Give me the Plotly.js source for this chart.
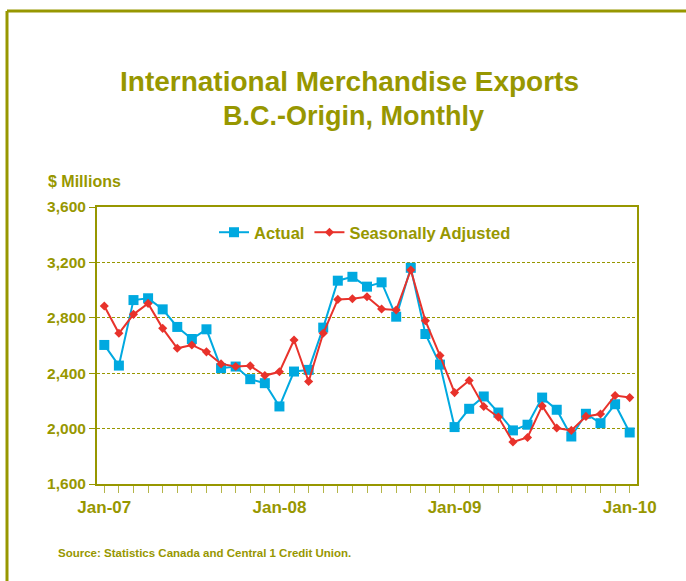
<!DOCTYPE html>
<html>
<head>
<meta charset="utf-8">
<script src="https://cdn.plot.ly/plotly-3.0.1.min.js"></script>
<style>
html,body{margin:0;padding:0;background:#fff;}
#chart{width:686px;height:581px;}
</style>
</head>
<body>
<div id="chart"></div>
<script>
var months = ["Jan-07","Feb-07","Mar-07","Apr-07","May-07","Jun-07","Jul-07","Aug-07","Sep-07","Oct-07","Nov-07","Dec-07",
  "Jan-08","Feb-08","Mar-08","Apr-08","May-08","Jun-08","Jul-08","Aug-08","Sep-08","Oct-08","Nov-08","Dec-08",
  "Jan-09","Feb-09","Mar-09","Apr-09","May-09","Jun-09","Jul-09","Aug-09","Sep-09","Oct-09","Nov-09","Dec-09","Jan-10"];
var actual = [2604,2455,2928,2941,2861,2734,2647,2717,2436,2448,2357,2328,
  2160,2412,2424,2729,3068,3096,3025,3056,2808,3161,2683,2462,
  2011,2143,2232,2116,1987,2028,2224,2136,1943,2107,2039,2176,1972];
var seasAdj = [2885,2688,2825,2904,2724,2580,2604,2554,2467,2448,2453,2383,
  2410,2640,2340,2688,2933,2938,2952,2863,2856,3145,2779,2527,
  2260,2347,2160,2083,1903,1936,2164,2004,1987,2088,2105,2239,2224];
var labelMonths = ["Jan-07","Jan-08","Jan-09","Jan-10"];
var yTicks = [1600,2000,2400,2800,3200,3600];

var olive = "#979700";
var fontFam = "Liberation Sans, Arial, sans-serif";
var xIdx = months.map(function(m,i){return i;});
var tickText = months.map(function(m){return labelMonths.indexOf(m) >= 0 ? m : "";});

var traces = [
  {x: xIdx, y: actual, name: "Actual", type: "scatter", mode: "lines+markers",
   line: {color: "#00A9E0", width: 2}, marker: {symbol: "square", size: 10, color: "#00A9E0"}},
  {x: xIdx, y: seasAdj, name: "Seasonally Adjusted", type: "scatter", mode: "lines+markers",
   line: {color: "#E8322B", width: 2}, marker: {symbol: "diamond", size: 7, color: "#E8322B"}}
];

var L = 97, R = 49, T = 207, B = 97, W = 686, H = 581;
var pw = W - L - R, ph = H - T - B;
function px(x){ return (x - L) / pw; }
function py(y){ return (H - B - y) / ph; }

var layout = {
  width: W, height: H,
  margin: {l: L, r: R, t: T, b: B, pad: 0},
  paper_bgcolor: "#fff", plot_bgcolor: "#fff",
  font: {family: fontFam, color: olive, size: 14},
  showlegend: true,
  legend: {orientation: "h", x: px(214), y: py(215), xanchor: "left", yanchor: "top",
    bgcolor: "rgba(0,0,0,0)", font: {size: 16.5, color: olive, family: fontFam, weight: "bold"},
    itemwidth: 30, tracegroupgap: 0},
  xaxis: {range: [-0.5, 36.5], tickvals: xIdx, ticktext: tickText, ticks: "outside", ticklen: 7,
    tickcolor: "#b5b54a", tickwidth: 1, showgrid: false, zeroline: false, showline: true, linecolor: olive,
    linewidth: 2, mirror: true, tickfont: {size: 17, color: olive, family: fontFam, weight: "bold"}},
  yaxis: {range: [1600, 3600], tickvals: yTicks, tickformat: ",", ticks: "outside", ticklen: 6,
    tickcolor: olive, tickwidth: 1, showgrid: true, gridcolor: olive, griddash: "3px,2px", gridwidth: 1,
    zeroline: false, showline: true, linecolor: olive, linewidth: 2, mirror: true,
    tickfont: {size: 15.5, color: olive, family: fontFam, weight: "bold"}},
  annotations: [
    {text: "<b>International Merchandise Exports</b>", xref: "paper", yref: "paper", x: px(349), y: py(81),
     xanchor: "center", yanchor: "middle", showarrow: false, font: {size: 28, color: olive, family: fontFam}},
    {text: "<b>B.C.-Origin, Monthly</b>", xref: "paper", yref: "paper", x: px(353), y: py(116),
     xanchor: "center", yanchor: "middle", showarrow: false, font: {size: 27, color: olive, family: fontFam}},
    {text: "<b>$ Millions</b>", xref: "paper", yref: "paper", x: px(46), y: py(181),
     xanchor: "left", yanchor: "middle", showarrow: false, font: {size: 16, color: olive, family: fontFam}},
    {text: "<b>Source: Statistics Canada and Central 1 Credit Union.</b>", xref: "paper", yref: "paper", x: px(56), y: py(553),
     xanchor: "left", yanchor: "middle", showarrow: false, font: {size: 11.5, color: olive, family: fontFam}}
  ],
  shapes: [
    {type: "line", xref: "paper", yref: "paper", x0: px(7), x1: px(720), y0: py(11), y1: py(11),
     line: {color: olive, width: 3}},
    {type: "line", xref: "paper", yref: "paper", x0: px(7), x1: px(7), y0: py(11), y1: py(620),
     line: {color: olive, width: 3}}
  ]
};

Plotly.newPlot("chart", traces, layout, {displayModeBar: false, staticPlot: true});
</script>
</body>
</html>
